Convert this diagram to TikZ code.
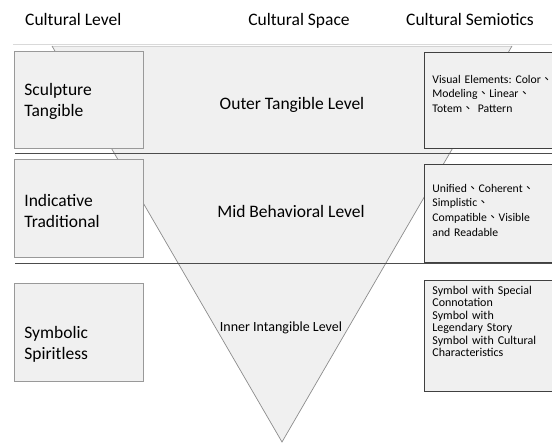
\documentclass[tikz,border=0pt]{standalone}
\usepackage{fontspec}
\setmainfont{Carlito}
\newfontfamily\cjk[Script=CJK, Language=Chinese Traditional]{Noto Sans CJK TC}
\newcommand{\dunhao}{{\cjk 、}}
\frenchspacing

\begin{document}
\begin{tikzpicture}[x=1pt, y=-1pt,
	big/.style={font=\fontsize{17.5}{21}\selectfont},
	small/.style={font=\fontsize{11.7}{14.6}\selectfont},
	title/.style={big, inner sep=0pt},
	levelbox/.style={draw=gray!80, fill=gray!12, line width=0.8pt, big, anchor=north west,
		inner xsep=10pt, inner ysep=0pt, text width=109pt, align=left},
	semiobox/.style={draw=black!75, fill=gray!12, line width=0.8pt, small, anchor=north west,
		inner xsep=8pt, inner ysep=0pt, text width=130pt, align=left}]
	\useasboundingbox (0,0) rectangle (552,443);

	\node[title, anchor=base west] (levelhead) at (25,26) {Cultural Level};
	\node[title, anchor=base] (spacehead) at (299,26) {Cultural Space};
	\node[title, anchor=base] (semiohead) at (470,26) {Cultural Semiotics};

	% inverted triangle of the three levels
	\coordinate (topleft) at (52,46);
	\coordinate (topright) at (512,46);
	\coordinate (apex) at (282,442);
	\draw[gray!30, line width=0.8pt] (13,44) -- (552,44);
	\fill[gray!12] (topleft) -- (topright) -- (apex) -- cycle;
	\draw[gray!35, line width=0.6pt] (topleft) -- (topright);
	\draw[gray!90, line width=0.7pt] (topleft) -- (apex) -- (topright);
	\draw[black!70, line width=0.8pt] (15,153) -- (552,153);
	\draw[black!70, line width=0.8pt] (15,263) -- (552,263);

	\node[title, anchor=base] (outer) at (292,110) {Outer Tangible Level};
	\node[title, anchor=base] (mid) at (291,218) {Mid Behavioral Level};
	\node[inner sep=0pt, font=\fontsize{14}{17}\selectfont, anchor=base] (inner) at (281,332) {Inner Intangible Level};

	\node[levelbox, text height=44pt, text depth=53pt] (sculpture) at (14,51) {Sculpture\\Tangible};
	\node[levelbox, text height=47pt, text depth=51pt] (indicative) at (14,159) {Indicative\\Traditional};
	\node[levelbox, text height=55pt, text depth=43pt] (symbolic) at (14,283) {Symbolic\\Spiritless};

	\node[semiobox, text height=31pt, text depth=65pt] (visual) at (424,52)
		{Visual Elements: Color\dunhao\\Modeling\dunhao Linear\dunhao\\Totem\dunhao\ Pattern};
	\node[semiobox, text height=28pt, text depth=70pt] (unified) at (424,164)
		{Unified\dunhao Coherent\dunhao\\Simplistic\dunhao\\Compatible\dunhao Visible\\and Readable};
	\node[semiobox, font=\fontsize{12}{12.5}\selectfont, text height=14pt, text depth=97pt] (symbol) at (424,280)
		{Symbol with Special\\Connotation\\Symbol with\\Legendary Story\\Symbol with Cultural\\Characteristics};
\end{tikzpicture}
\end{document}
